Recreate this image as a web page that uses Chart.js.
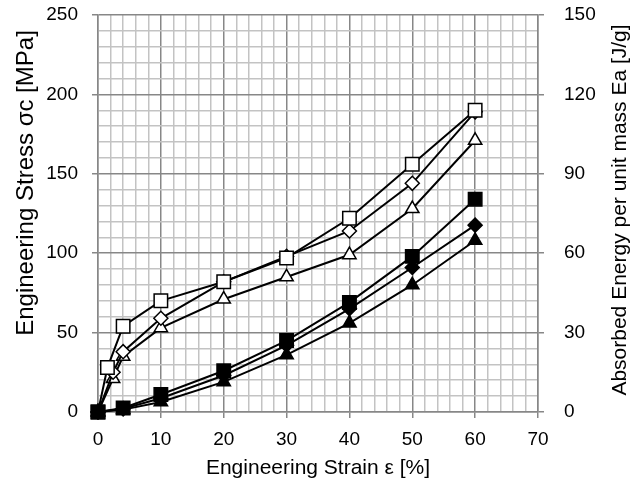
<!DOCTYPE html>
<html>
<head>
<meta charset="utf-8">
<script src="https://cdn.jsdelivr.net/npm/chart.js@4.4.0/dist/chart.umd.min.js"></script>
<style>
  html, body { margin: 0; padding: 0; background: #fff; }
  #wrap { width: 640px; height: 488px; }
</style>
</head>
<body>
<div id="wrap"><canvas id="c" width="640" height="488"></canvas></div>
<script>
/* ----- data ----- */
// stress curves (left axis, MPa)
const strainSquare = [0, 1.5, 4, 10, 20, 30, 40, 50, 60];
const stressSquare = [0, 28, 54, 70, 82, 97, 122, 156, 190];
const strainDiamond = [0, 2.4, 4, 10, 20, 30, 40, 50, 60];
const stressDiamond = [0, 25, 38, 59, 82, 98, 114, 144, 189];
const strainTriangle = [0, 2.4, 4, 10, 20, 30, 40, 50, 60];
const stressTriangle = [0, 21, 35, 53, 71, 85, 99, 128, 171];

// absorbed energy curves (right axis, J/g)
const strainEnergy = [0, 4, 10, 20, 30, 40, 50, 60];
const energySquare = [0, 1.5, 6.6, 15.6, 27, 41.4, 58.8, 80.4];
const energyDiamond = [0, 1.2, 5.2, 13.8, 25.2, 39, 54.6, 70.6];
const energyTriangle = [0, 0.9, 3.8, 11.4, 21.6, 33.6, 48, 64.8];

const xTicks = [0, 10, 20, 30, 40, 50, 60, 70];
const yTicks = [0, 50, 100, 150, 200, 250];
const y2Ticks = [0, 30, 60, 90, 120, 150];

const xTitle = 'Engineering Strain ε [%]';
const yTitle = 'Engineering Stress σc [MPa]';
const y2Title = 'Absorbed Energy per unit mass Ea [J/g]';

const FONT = 'Liberation Sans, Arial, sans-serif';
const MAJOR = '#878787';
const MINOR = '#c3c3c3';

const pts = (xs, ys) => xs.map((x, i) => ({ x: x, y: ys[i] }));

function series(xs, ys, axis, style, filled, r) {
  return {
    data: pts(xs, ys),
    yAxisID: axis,
    showLine: true,
    clip: false,
    borderColor: '#000',
    borderWidth: 2,
    pointStyle: style,
    pointRadius: r,
    pointHoverRadius: r,
    pointBackgroundColor: filled ? '#000' : '#fff',
    pointBorderColor: '#000',
    pointBorderWidth: 1.5
  };
}

// both side titles read bottom-to-top
function sideTitle(ctx, text, x, y, size) {
  ctx.save();
  ctx.translate(x, y);
  ctx.rotate(-Math.PI / 2);
  ctx.font = size + 'px ' + FONT;
  ctx.fillStyle = '#000';
  ctx.textAlign = 'center';
  ctx.textBaseline = 'middle';
  ctx.fillText(text, 0, 0);
  ctx.restore();
}

const sideTitles = {
  id: 'sideTitles',
  afterDraw(chart) {
    sideTitle(chart.ctx, yTitle, 26, 183, 24);
    sideTitle(chart.ctx, y2Title, 620, 210, 21);
  }
};

const isMajor = (v, list) => list.includes(v);

// fixed box sizes so the plot area sits where it does in the picture
const fixY = w => s => { s.width = w; s.paddingTop = 0; s.paddingBottom = 0; };

new Chart(document.getElementById('c'), {
  type: 'scatter',
  data: {
    // first dataset ends up on top
    datasets: [
      series(strainEnergy, energySquare, 'y2', 'rect', true, 9.5),
      series(strainEnergy, energyDiamond, 'y2', 'rectRot', true, 7),
      series(strainEnergy, energyTriangle, 'y2', 'triangle', true, 7.7),
      series(strainSquare, stressSquare, 'y', 'rect', false, 9.5),
      series(strainDiamond, stressDiamond, 'y', 'rectRot', false, 7),
      series(strainTriangle, stressTriangle, 'y', 'triangle', false, 7.7)
    ]
  },
  options: {
    responsive: false,
    animation: false,
    layout: { autoPadding: false, padding: { top: 15, left: 0, right: 0, bottom: 0 } },
    plugins: { legend: { display: false }, tooltip: { enabled: false } },
    scales: {
      x: {
        type: 'linear', min: 0, max: 70,
        afterFit: s => { s.height = 76; s.paddingLeft = 0; s.paddingRight = 0; },
        ticks: {
          stepSize: 2, autoSkip: false, maxRotation: 0, padding: 10,
          color: '#000', font: { family: FONT, size: 19 },
          callback: v => isMajor(v, xTicks) ? v : ''
        },
        grid: {
          color: c => isMajor(c.tick.value, xTicks) ? MAJOR : MINOR,
          tickColor: c => isMajor(c.tick.value, xTicks) ? MAJOR : 'rgba(0,0,0,0)',
          lineWidth: 1.5, tickLength: 6
        },
        border: { color: MAJOR, width: 1.5 },
        title: { display: true, text: xTitle, color: '#000', font: { family: FONT, size: 21 }, padding: { bottom: 7 } }
      },
      y: {
        type: 'linear', position: 'left', min: 0, max: 250,
        afterFit: fixY(98),
        ticks: {
          stepSize: 10, autoSkip: false, padding: 14,
          color: '#000', font: { family: FONT, size: 19 },
          callback: v => isMajor(v, yTicks) ? v : ''
        },
        grid: {
          color: c => isMajor(c.tick.value, yTicks) ? MAJOR : MINOR,
          tickColor: c => isMajor(c.tick.value, yTicks) ? MAJOR : 'rgba(0,0,0,0)',
          lineWidth: 1.5, tickLength: 6
        },
        border: { color: MAJOR, width: 1.5 }
      },
      y2: {
        type: 'linear', position: 'right', min: 0, max: 150,
        afterFit: fixY(102),
        ticks: {
          stepSize: 30, padding: 20,
          color: '#000', font: { family: FONT, size: 19 },
          callback: v => isMajor(v, y2Ticks) ? v : ''
        },
        grid: { drawOnChartArea: false, color: MAJOR, lineWidth: 1.5, tickLength: 6 },
        border: { color: MAJOR, width: 1.5 }
      }
    }
  },
  plugins: [sideTitles]
});
</script>
</body>
</html>
